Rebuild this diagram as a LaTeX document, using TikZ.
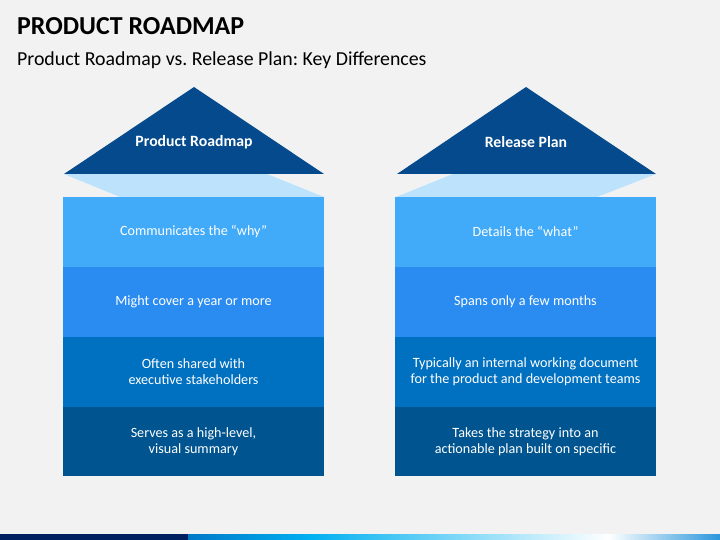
\documentclass[tikz,border=0pt]{standalone}
\usepackage{fontspec}
\setmainfont{Carlito}
\usetikzlibrary{positioning}
\frenchspacing

\definecolor{pagegray}{HTML}{F2F2F2}
\definecolor{roofblue}{HTML}{044A8C}
\definecolor{foldblue}{HTML}{BDE3FC}
\definecolor{rowone}{HTML}{41ABFA}
\definecolor{rowtwo}{HTML}{2A8CF0}
\definecolor{rowthree}{HTML}{0070C0}
\definecolor{rowfour}{HTML}{00548F}
\definecolor{barnavy}{HTML}{002060}
\definecolor{barblue}{HTML}{0078C8}
\definecolor{barcyan}{HTML}{00B0F0}
\definecolor{barend}{HTML}{2A96DC}

\tikzset{
  rowbox/.style={minimum width=261bp, minimum height=69.5bp, inner sep=0pt,
    text=white, align=center, font=\fontsize{14.2}{16.5}\selectfont},
  rooflabel/.style={text=white, font=\bfseries\fontsize{15.8}{18}\selectfont},
}

\begin{document}
\begin{tikzpicture}[x=1bp,y=-1bp]
  \fill[pagegray] (0,0) rectangle (720,540);
  \useasboundingbox (0,0) rectangle (720,540);

  % title
  \node[anchor=base west, inner sep=0pt, font=\bfseries\fontsize{26}{30}\selectfont] (title) at (17,35) {PRODUCT ROADMAP};
  \node[anchor=base west, inner sep=0pt, font=\fontsize{19.9}{24}\selectfont] (subtitle) at (17,66) {Product Roadmap vs. Release Plan: Key Differences};

  % folds under the roofs
  \fill[foldblue] (64,174) -- (267,174) -- (324,197) -- (120,197) -- cycle;
  \fill[foldblue] (453,174) -- (656,174) -- (597,197) -- (396,197) -- cycle;

  % roofs
  \fill[roofblue] (64,174) -- (194,87) -- (324,174) -- cycle;
  \node[rooflabel] (roadmap) at (194,142) {Product Roadmap};
  \fill[roofblue] (397,174) -- (526,87) -- (656,174) -- cycle;
  \node[rooflabel] (release) at (526,142) {Release Plan};

  % left column
  \node[rowbox, fill=rowone, anchor=north] (rmone) at (193.5,197) {Communicates the “why”};
  \node[rowbox, fill=rowtwo, below=0pt of rmone] (rmtwo) {Might cover a year or more};
  \node[rowbox, fill=rowthree, below=0pt of rmtwo] (rmthree) {Often shared with\\executive stakeholders};
  \node[rowbox, fill=rowfour, below=0pt of rmthree] (rmfour) {Serves as a high-level,\\visual summary};

  % right column
  \node[rowbox, fill=rowone, anchor=north] (rpone) at (525.5,197) {Details the “what”};
  \node[rowbox, fill=rowtwo, below=0pt of rpone] (rptwo) {Spans only a few months};
  \node[rowbox, fill=rowthree, below=0pt of rptwo] (rpthree) {Typically an internal working document\\for the product and development teams};
  \node[rowbox, fill=rowfour, below=0pt of rpthree] (rpfour) {Takes the strategy into an\\actionable plan built on specific};

  % bottom bar
  \fill[barnavy] (0,534) rectangle (188,540);
  \shade[left color=barblue, right color=barcyan] (188,534) rectangle (310,540);
  \shade[left color=barcyan, right color=white] (310,534) rectangle (608,540);
  \shade[left color=white, right color=barend] (608,534) rectangle (720,540);
\end{tikzpicture}
\end{document}
